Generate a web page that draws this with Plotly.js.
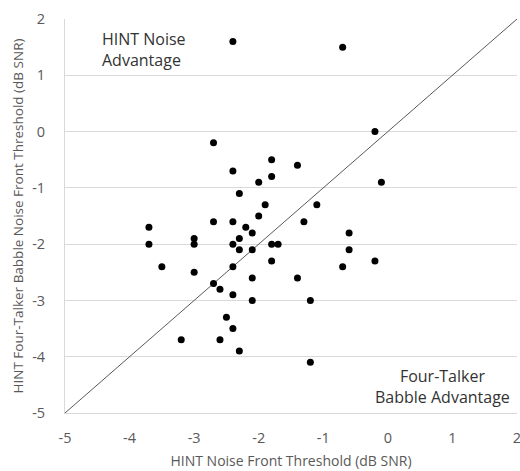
<!DOCTYPE html>
<html>
<head>
<meta charset="utf-8">
<script src="https://cdn.plot.ly/plotly-3.0.1.min.js"></script>
<style>html,body{margin:0;padding:0;background:#fff;}#chart{width:520px;height:471px;}</style>
</head>
<body>
<div id="chart"></div>
<script>
var noiseFront = [-2.4,-0.7,-0.2,-2.7,-1.8,-1.4,-2.4,-1.8,-2.0,-0.1,-2.3,-1.9,-1.1,-2.0,-2.7,-2.4,-1.3,-3.7,-2.2,-2.1,-0.6,-3.0,-2.3,-3.7,-3.0,-2.4,-1.8,-1.7,-2.3,-2.1,-0.6,-1.8,-0.2,-3.5,-2.4,-0.7,-3.0,-2.1,-1.4,-2.7,-2.6,-2.4,-2.1,-1.2,-2.5,-2.4,-3.2,-2.6,-2.3,-1.2];
var babbleFront = [1.6,1.5,0.0,-0.2,-0.5,-0.6,-0.7,-0.8,-0.9,-0.9,-1.1,-1.3,-1.3,-1.5,-1.6,-1.6,-1.6,-1.7,-1.7,-1.8,-1.8,-1.9,-1.9,-2.0,-2.0,-2.0,-2.0,-2.0,-2.1,-2.1,-2.1,-2.3,-2.3,-2.4,-2.4,-2.4,-2.5,-2.6,-2.6,-2.7,-2.8,-2.9,-3.0,-3.0,-3.3,-3.5,-3.7,-3.7,-3.9,-4.1];
var identityLine = [-5, 2];
var tickVals = [-5,-4,-3,-2,-1,0,1,2];
var tickText = ["-5","-4","-3","-2","-1","0","1","2"];

var font = "'Open Sans', 'Liberation Sans', sans-serif";
var traces = [
  {x: identityLine, y: identityLine, mode: 'lines', line: {color: '#595959', width: 1}, hoverinfo: 'skip', showlegend: false},
  {x: noiseFront, y: babbleFront, mode: 'markers', type: 'scatter', marker: {color: '#000', size: 7}, showlegend: false}
];
var layout = {
  width: 520, height: 471,
  margin: {l: 64.5, r: 2.6, t: 19.3, b: 57.7},
  paper_bgcolor: '#fff', plot_bgcolor: '#fff',
  font: {family: font, color: '#595959'},
  xaxis: {
    range: [-5, 2], tickvals: tickVals, ticktext: tickText,
    showgrid: false, zeroline: false, showline: true, linecolor: '#d9d9d9', linewidth: 1,
    ticks: '', ticklabelstandoff: 12, ticklabeloverflow: 'allow', tickfont: {size: 14.5, color: '#595959'},
    title: {text: 'HINT Noise Front Threshold (dB SNR)', font: {size: 14, color: '#595959'}, standoff: 9}
  },
  yaxis: {
    range: [-5, 2], tickvals: tickVals, ticktext: tickText,
    showgrid: true, gridcolor: '#d9d9d9', gridwidth: 1, zeroline: false,
    showline: true, linecolor: '#d9d9d9', linewidth: 1,
    ticks: '', ticklabelstandoff: 16, tickfont: {size: 14.5, color: '#595959'},
    title: {text: 'HINT Four-Talker Babble Noise Front Threshold (dB SNR)', font: {size: 13.5, color: '#595959'}, standoff: 5}
  },
  annotations: [
    {xref: 'paper', yref: 'paper', x: (100-64.5)/452.9, y: 1-(50-19.3)/394, text: 'HINT Noise<br>Advantage', showarrow: false, align: 'left', font: {size: 16, color: '#333', family: font}, xanchor: 'left', yanchor: 'middle'},
    {xref: 'paper', yref: 'paper', x: (443-64.5)/452.9, y: 1-(387-19.3)/394, text: 'Four-Talker<br>Babble Advantage', showarrow: false, align: 'center', font: {size: 16, color: '#333', family: font}, xanchor: 'center', yanchor: 'middle'}
  ]
};
Plotly.newPlot('chart', traces, layout, {displayModeBar: false, staticPlot: true});
</script>
</body>
</html>
